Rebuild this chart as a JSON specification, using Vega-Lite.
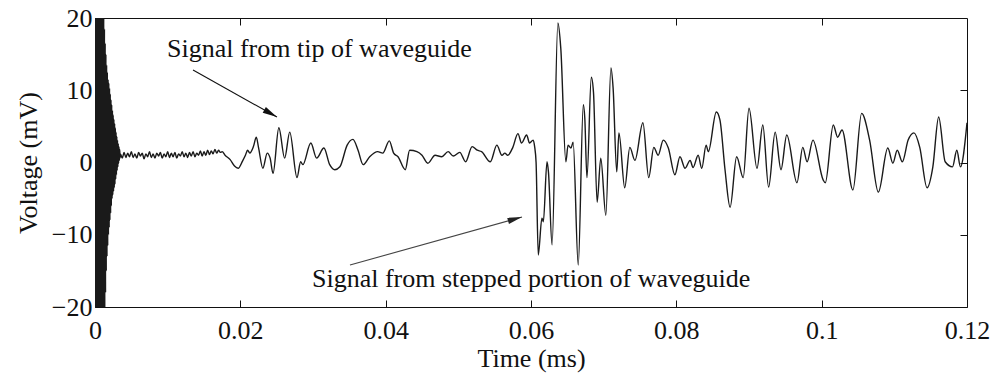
{
  "$schema": "https://vega.github.io/schema/vega-lite/v6.json",
  "autosize": "none",
  "width": 872,
  "height": 289,
  "padding": {"left": 95, "top": 18, "right": 30, "bottom": 70},
  "background": "white",
  "config": {
    "view": {"stroke": "#111", "strokeWidth": 1},
    "font": "Liberation Serif",
    "axis": {
      "grid": false,
      "domain": false,
      "tickColor": "#111",
      "tickWidth": 1,
      "tickSize": -7,
      "labelFont": "Liberation Serif",
      "labelFontSize": 26,
      "labelColor": "#111",
      "titleFont": "Liberation Serif",
      "titleFontSize": 26,
      "titleFontWeight": "normal",
      "titleColor": "#111"
    }
  },
  "datasets": {
    "wave": [
      {"t":0,"v":25},{"t":0.00005,"v":-25},{"t":0.0001,"v":25},{"t":0.00015,"v":-25},{"t":0.0002,"v":25},{"t":0.00025,"v":-25},{"t":0.0003,"v":25},{"t":0.00035,"v":-25},{"t":0.0004,"v":25},{"t":0.00045,"v":-25},{"t":0.0005,"v":25},{"t":0.00055,"v":-25},{"t":0.0006,"v":25},{"t":0.00065,"v":-25},{"t":0.0007,"v":25},{"t":0.00075,"v":-25},{"t":0.0008,"v":25},{"t":0.00085,"v":-25},{"t":0.0009,"v":25},{"t":0.00095,"v":-25},{"t":0.001,"v":25},{"t":0.00105,"v":-25},
      {"t":0.0011,"v":24},{"t":0.00115,"v":-25},{"t":0.0012,"v":21},{"t":0.00125,"v":-25},{"t":0.0013,"v":18.5},{"t":0.00135,"v":-22},{"t":0.0014,"v":16.5},{"t":0.00145,"v":-18},{"t":0.0015,"v":15},{"t":0.00155,"v":-15},{"t":0.0016,"v":13.5},{"t":0.00165,"v":-13},{"t":0.0017,"v":12.5},{"t":0.00175,"v":-11.5},{"t":0.0018,"v":11.5},{"t":0.00185,"v":-10},{"t":0.0019,"v":11},{"t":0.00195,"v":-9},{"t":0.002,"v":10.3},{"t":0.00205,"v":-8},{"t":0.0021,"v":9.5},{"t":0.00215,"v":-7},{"t":0.0022,"v":8.7},{"t":0.00225,"v":-6},{"t":0.0023,"v":8},{"t":0.00235,"v":-5},{"t":0.0024,"v":7.2},{"t":0.00245,"v":-4.5},{"t":0.0025,"v":6.6},{"t":0.00255,"v":-4},{"t":0.0026,"v":6},{"t":0.00265,"v":-3.5},{"t":0.0027,"v":5.4},{"t":0.00275,"v":-3},{"t":0.0028,"v":4.8},{"t":0.00285,"v":-2.3},{"t":0.0029,"v":4.2},{"t":0.00295,"v":-1.7},{"t":0.003,"v":3.6},{"t":0.00305,"v":-1.1},{"t":0.0031,"v":3.1},{"t":0.00315,"v":-0.6},{"t":0.0032,"v":2.6},{"t":0.00325,"v":-0.1},{"t":0.0033,"v":2.2},{"t":0.00335,"v":0.3},{"t":0.0034,"v":1.8},{"t":0.00345,"v":0.6},
      {"t":0.0035,"v":1.2},{"t":0.00375,"v":0.6},{"t":0.004,"v":1.4},{"t":0.00425,"v":0.7},{"t":0.0045,"v":1.3},{"t":0.00475,"v":0.8},{"t":0.005,"v":1.5},{"t":0.00525,"v":0.7},{"t":0.0055,"v":1.2},{"t":0.00575,"v":0.6},{"t":0.006,"v":1.4},{"t":0.00625,"v":0.9},{"t":0.0065,"v":1.3},{"t":0.00675,"v":0.5},{"t":0.007,"v":1.2},{"t":0.00725,"v":0.8},{"t":0.0075,"v":1.5},{"t":0.00775,"v":0.7},{"t":0.008,"v":1.2},{"t":0.00825,"v":0.6},{"t":0.0085,"v":1.3},{"t":0.00875,"v":0.9},{"t":0.009,"v":1.4},{"t":0.00925,"v":0.6},{"t":0.0095,"v":1.2},{"t":0.00975,"v":0.8},{"t":0.01,"v":1.5},{"t":0.01025,"v":0.7},{"t":0.0105,"v":1.3},{"t":0.01075,"v":0.8},{"t":0.011,"v":1.4},{"t":0.01125,"v":0.6},{"t":0.0115,"v":1.2},{"t":0.01175,"v":0.9},{"t":0.012,"v":1.5},{"t":0.01225,"v":0.8},{"t":0.0125,"v":1.3},{"t":0.01275,"v":0.7},{"t":0.013,"v":1.4},{"t":0.01325,"v":0.9},{"t":0.0135,"v":1.5},{"t":0.01375,"v":0.8},{"t":0.014,"v":1.3},{"t":0.01425,"v":1.0},{"t":0.0145,"v":1.6},{"t":0.01475,"v":0.9},{"t":0.015,"v":1.5},{"t":0.01525,"v":1.0},{"t":0.0155,"v":1.7},{"t":0.01575,"v":1.1},{"t":0.016,"v":1.6},{"t":0.01625,"v":1.2},{"t":0.0165,"v":1.8},{"t":0.01675,"v":1.3},{"t":0.017,"v":1.7},{"t":0.01725,"v":1.4},{"t":0.0175,"v":1.5},
      {"t":0.0179,"v":1.0},{"t":0.0186,"v":0.4},{"t":0.0192,"v":-0.5},{"t":0.0197,"v":-0.8},{"t":0.0203,"v":0.2},{"t":0.0207,"v":1.0},{"t":0.021,"v":1.7},{"t":0.0213,"v":1.3},{"t":0.0218,"v":2.2},{"t":0.0222,"v":3.5},{"t":0.0225,"v":2.1},{"t":0.0231,"v":-0.8},{"t":0.0237,"v":1.3},{"t":0.0241,"v":0.6},{"t":0.0245,"v":-1.5},{"t":0.0253,"v":4.8},{"t":0.0261,"v":0.6},{"t":0.0268,"v":4.2},{"t":0.0278,"v":-2.1},{"t":0.0283,"v":0.1},{"t":0.0286,"v":-0.3},{"t":0.0297,"v":2.7},{"t":0.0305,"v":0.6},{"t":0.0315,"v":2.0},{"t":0.0323,"v":-0.3},{"t":0.033,"v":-1.0},{"t":0.0337,"v":-0.6},{"t":0.0347,"v":2.4},{"t":0.0355,"v":3.2},{"t":0.0362,"v":1.7},{"t":0.0369,"v":-0.3},{"t":0.0378,"v":0.8},{"t":0.0389,"v":1.5},{"t":0.0396,"v":1.3},{"t":0.0405,"v":3.0},{"t":0.0411,"v":1.3},{"t":0.0417,"v":0.8},{"t":0.0427,"v":-1.0},{"t":0.0433,"v":1.7},{"t":0.0443,"v":1.5},{"t":0.045,"v":1.0},{"t":0.0458,"v":-0.1},{"t":0.0468,"v":1.0},{"t":0.0477,"v":0.8},{"t":0.0486,"v":1.5},{"t":0.0493,"v":0.9},{"t":0.0502,"v":1.4},{"t":0.051,"v":0.1},{"t":0.0519,"v":2.2},{"t":0.0526,"v":1.7},{"t":0.0532,"v":1.5},{"t":0.0544,"v":0.1},{"t":0.0553,"v":2.4},{"t":0.056,"v":1.0},{"t":0.0564,"v":1.3},{"t":0.0568,"v":1.0},{"t":0.0575,"v":2.1},{"t":0.0582,"v":4.0},{"t":0.0587,"v":2.7},{"t":0.0594,"v":3.8},{"t":0.0598,"v":2.7},{"t":0.0603,"v":3.1},{"t":0.0605,"v":2.2},{"t":0.0607,"v":0.0},{"t":0.061,"v":-12.8},{"t":0.0615,"v":-7.7},{"t":0.0617,"v":-8.2},{"t":0.0622,"v":0.1},{"t":0.0624,"v":-1.3},{"t":0.0629,"v":-11.4},{"t":0.0637,"v":19.3},{"t":0.0641,"v":15.8},{"t":0.0648,"v":0.1},{"t":0.0651,"v":2.4},{"t":0.0655,"v":2.0},{"t":0.0658,"v":2.8},{"t":0.0665,"v":-14.2},{"t":0.0672,"v":8.0},{"t":0.0674,"v":6.2},{"t":0.0677,"v":-2.1},{"t":0.0683,"v":11.8},{"t":0.0686,"v":9.7},{"t":0.0691,"v":-5.5},{"t":0.0696,"v":0.6},{"t":0.0703,"v":-7.3},{"t":0.071,"v":13.1},{"t":0.0713,"v":10.3},{"t":0.0718,"v":-1.3},{"t":0.0721,"v":4.1},{"t":0.0729,"v":-3.5},{"t":0.0736,"v":2.1},{"t":0.0743,"v":0.3},{"t":0.0754,"v":5.5},{"t":0.0762,"v":-2.1},{"t":0.0769,"v":2.1},{"t":0.0775,"v":1.0},{"t":0.0782,"v":3.1},{"t":0.0789,"v":2.0},{"t":0.0798,"v":-1.7},{"t":0.0805,"v":0.8},{"t":0.0812,"v":-0.8},{"t":0.0819,"v":0.3},{"t":0.0823,"v":-0.7},{"t":0.083,"v":1.0},{"t":0.0835,"v":-0.8},{"t":0.0841,"v":2.4},{"t":0.0844,"v":1.5},{"t":0.0855,"v":7.0},{"t":0.086,"v":5.9},{"t":0.0867,"v":-1.0},{"t":0.0874,"v":-6.2},{"t":0.0883,"v":0.8},{"t":0.0892,"v":-2.1},{"t":0.09,"v":7.5},{"t":0.0911,"v":-0.8},{"t":0.0919,"v":5.2},{"t":0.0927,"v":-3.4},{"t":0.0936,"v":4.2},{"t":0.0944,"v":-1.0},{"t":0.0952,"v":3.8},{"t":0.0966,"v":-2.8},{"t":0.0974,"v":2.1},{"t":0.098,"v":0.1},{"t":0.0988,"v":3.1},{"t":0.1002,"v":-2.4},{"t":0.1005,"v":-2.8},{"t":0.1016,"v":5.2},{"t":0.1022,"v":3.5},{"t":0.1028,"v":4.5},{"t":0.1043,"v":-3.8},{"t":0.1055,"v":6.8},{"t":0.1066,"v":3.1},{"t":0.1078,"v":-4.1},{"t":0.1091,"v":2.0},{"t":0.1098,"v":-0.1},{"t":0.1104,"v":1.7},{"t":0.1111,"v":0.1},{"t":0.1119,"v":3.1},{"t":0.1127,"v":4.1},{"t":0.1135,"v":2.1},{"t":0.1145,"v":-3.5},{"t":0.1153,"v":-0.6},{"t":0.1161,"v":6.3},{"t":0.117,"v":0.1},{"t":0.118,"v":-0.6},{"t":0.1186,"v":1.7},{"t":0.1191,"v":-0.6},{"t":0.12,"v":5.5}
    ],
    "arrows": [
      {"id":"tip","t":0.01349,"v":12.8,"t2":0.02504,"v2":6.3},
      {"id":"step","t":0.03509,"v":-14.19,"t2":0.05876,"v2":-7.54}
    ],
    "labels": [
      {"label":"Signal from tip of waveguide","t":0.00991,"v":14.6},
      {"label":"Signal from stepped portion of waveguide","t":0.02986,"v":-17.23}
    ]
  },
  "resolve": {"axis": {"x": "independent", "y": "independent"}},
  "layer": [
    {
      "data": {"name": "wave"},
      "mark": {"type": "line", "color": "#1a1a1a", "strokeWidth": 1.4, "clip": true, "interpolate": "monotone"},
      "encoding": {
        "x": {"field": "t", "type": "quantitative", "scale": {"domain": [0, 0.12], "nice": false, "zero": false},
              "axis": {"orient": "bottom", "values": [0, 0.02, 0.04, 0.06, 0.08, 0.1, 0.12], "labelExpr": "format(datum.value, '.2~f')", "title": "Time (ms)", "labelPadding": 17, "titlePadding": 2, "labelFlush": false}},
        "y": {"field": "v", "type": "quantitative", "scale": {"domain": [-20, 20], "nice": false, "zero": false},
              "axis": {"orient": "left", "values": [-20, -10, 0, 10, 20], "title": "Voltage (mV)", "labelPadding": 10, "titlePadding": 10}}
      }
    },
    {
      "data": {"name": "arrows"},
      "mark": {"type": "rule", "strokeWidth": 1.1},
      "encoding": {
        "x": {"field": "t", "type": "quantitative", "scale": {"domain": [0, 0.12], "nice": false, "zero": false},
              "axis": {"orient": "top", "values": [0.02, 0.04, 0.06, 0.08, 0.1], "labels": false, "title": null}},
        "y": {"field": "v", "type": "quantitative", "scale": {"domain": [-20, 20], "nice": false, "zero": false},
              "axis": {"orient": "right", "values": [-10, 0, 10], "labels": false, "title": null}},
        "x2": {"field": "t2"},
        "y2": {"field": "v2"},
        "color": {"field": "id", "type": "nominal", "scale": {"domain": ["tip", "step"], "range": ["#111111", "#444444"]}, "legend": null}
      }
    },
    {
      "data": {"name": "arrows"},
      "transform": [{"filter": "datum.id === 'tip'"}],
      "mark": {"type": "point", "shape": "M0,0L0.45,2L-0.45,2Z", "filled": true, "color": "#111", "size": 210, "angle": 119, "opacity": 1},
      "encoding": {
        "x": {"field": "t2", "type": "quantitative", "scale": {"domain": [0, 0.12], "nice": false, "zero": false}, "axis": null},
        "y": {"field": "v2", "type": "quantitative", "scale": {"domain": [-20, 20], "nice": false, "zero": false}, "axis": null}
      }
    },
    {
      "data": {"name": "arrows"},
      "transform": [{"filter": "datum.id === 'step'"}],
      "mark": {"type": "point", "shape": "M0,0L0.45,2L-0.45,2Z", "filled": true, "color": "#222", "size": 210, "angle": 74, "opacity": 1},
      "encoding": {
        "x": {"field": "t2", "type": "quantitative", "scale": {"domain": [0, 0.12], "nice": false, "zero": false}, "axis": null},
        "y": {"field": "v2", "type": "quantitative", "scale": {"domain": [-20, 20], "nice": false, "zero": false}, "axis": null}
      }
    },
    {
      "data": {"name": "labels"},
      "mark": {"type": "text", "align": "left", "baseline": "alphabetic", "font": "Liberation Serif", "fontSize": 26, "color": "#111"},
      "encoding": {
        "x": {"field": "t", "type": "quantitative", "scale": {"domain": [0, 0.12], "nice": false, "zero": false}, "axis": null},
        "y": {"field": "v", "type": "quantitative", "scale": {"domain": [-20, 20], "nice": false, "zero": false}, "axis": null},
        "text": {"field": "label"}
      }
    }
  ]
}
